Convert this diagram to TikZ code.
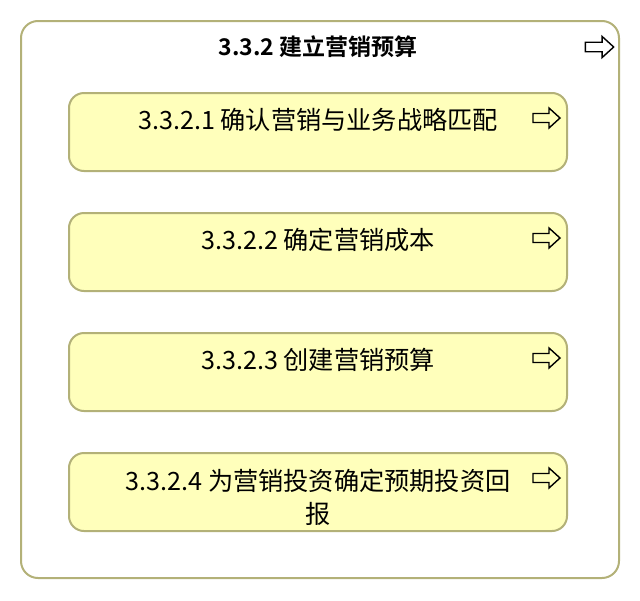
\documentclass[tikz,border=0pt]{standalone}
\usepackage{fontspec}
\setmainfont{Noto Sans CJK SC}[BoldFont={Noto Sans CJK SC Bold}]
\definecolor{boxline}{HTML}{B3B178}
\definecolor{boxfill}{HTML}{FFFFBB}
\begin{document}
\begin{tikzpicture}[x=1pt,y=-1pt]
\tikzset{
  outerbox/.style={draw=boxline, line width=2pt, rounded corners=17pt, fill=white, minimum width=598pt, minimum height=557pt, inner sep=0pt},
  taskbox/.style={draw=boxline, line width=2pt, rounded corners=15pt, fill=boxfill, minimum width=498pt, minimum height=78pt, inner sep=0pt},
  tasktext/.style={font=\fontsize{25.2}{33}\selectfont, align=center, inner sep=0pt},
  titletext/.style={font=\fontsize{23}{28}\selectfont\bfseries, inner sep=0pt},
  hollowarrow/.pic={\draw[black, line width=1.4pt, line join=miter] (-13,-4.5) -- (3,-4.5) -- (3,-10) -- (14,0) -- (3,10) -- (3,4.5) -- (-13,4.5) -- cycle;}
}
\useasboundingbox (0,0) rectangle (640,600);
\node[outerbox] (outer) at (320,299.5) {};
\node[titletext] (title) at (318,47) {3.3.2 建立营销预算};
\pic at (599,47) [scale=1.05] {hollowarrow};

\node[taskbox] (b1) at (318,132) {};
\node[taskbox] (b2) at (318,252) {};
\node[taskbox] (b3) at (318,372) {};
\node[taskbox] (b4) at (318,492) {};

\node[tasktext] (t1) at (318,120) {3.3.2.1 确认营销与业务战略匹配};
\node[tasktext] (t2) at (318,240) {3.3.2.2 确定营销成本};
\node[tasktext] (t3) at (318,360) {3.3.2.3 创建营销预算};
\node[tasktext] (t4) at (318,497) {3.3.2.4 为营销投资确定预期投资回\\报};

\pic at (546,118) {hollowarrow};
\pic at (546,238) {hollowarrow};
\pic at (546,358) {hollowarrow};
\pic at (546,478) {hollowarrow};
\end{tikzpicture}
\end{document}
